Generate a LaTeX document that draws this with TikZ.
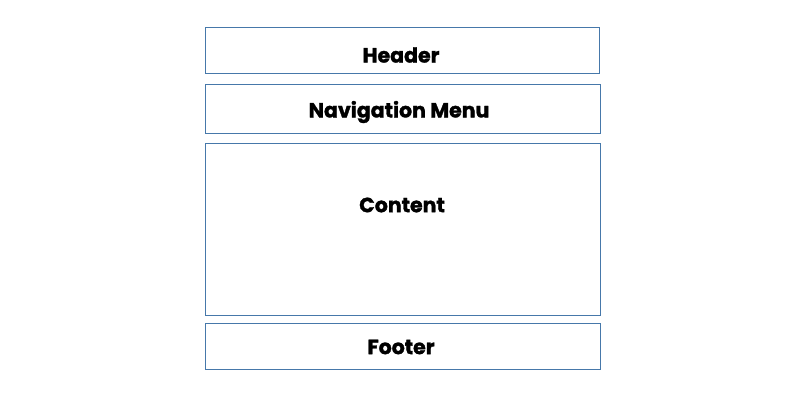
\documentclass[tikz,border=0pt]{standalone}
\usepackage{fontspec}
\setmainfont{Poppins}[FakeBold=1.5]
\definecolor{edge}{RGB}{70,120,170}
\begin{document}
\begin{tikzpicture}[x=1pt,y=-1pt,
  box/.style={draw=edge,line width=1pt,inner sep=0pt},
  lbl/.style={font=\bfseries\fontsize{20.5}{24}\selectfont,text=black}]
\useasboundingbox (0,0) rectangle (800,400);
\draw[box] (205,27) rectangle (599,73);
\node[lbl] (header) at (401,55) {Header};
\draw[box] (205,84) rectangle (600,133);
\node[lbl] (nav) at (399,112) {Navigation Menu};
\draw[box] (205,143) rectangle (600,315);
\node[lbl] (content) at (402,205) {Content};
\draw[box] (205,323) rectangle (600,369);
\node[lbl] (footer) at (401,347) {Footer};
\end{tikzpicture}
\end{document}
